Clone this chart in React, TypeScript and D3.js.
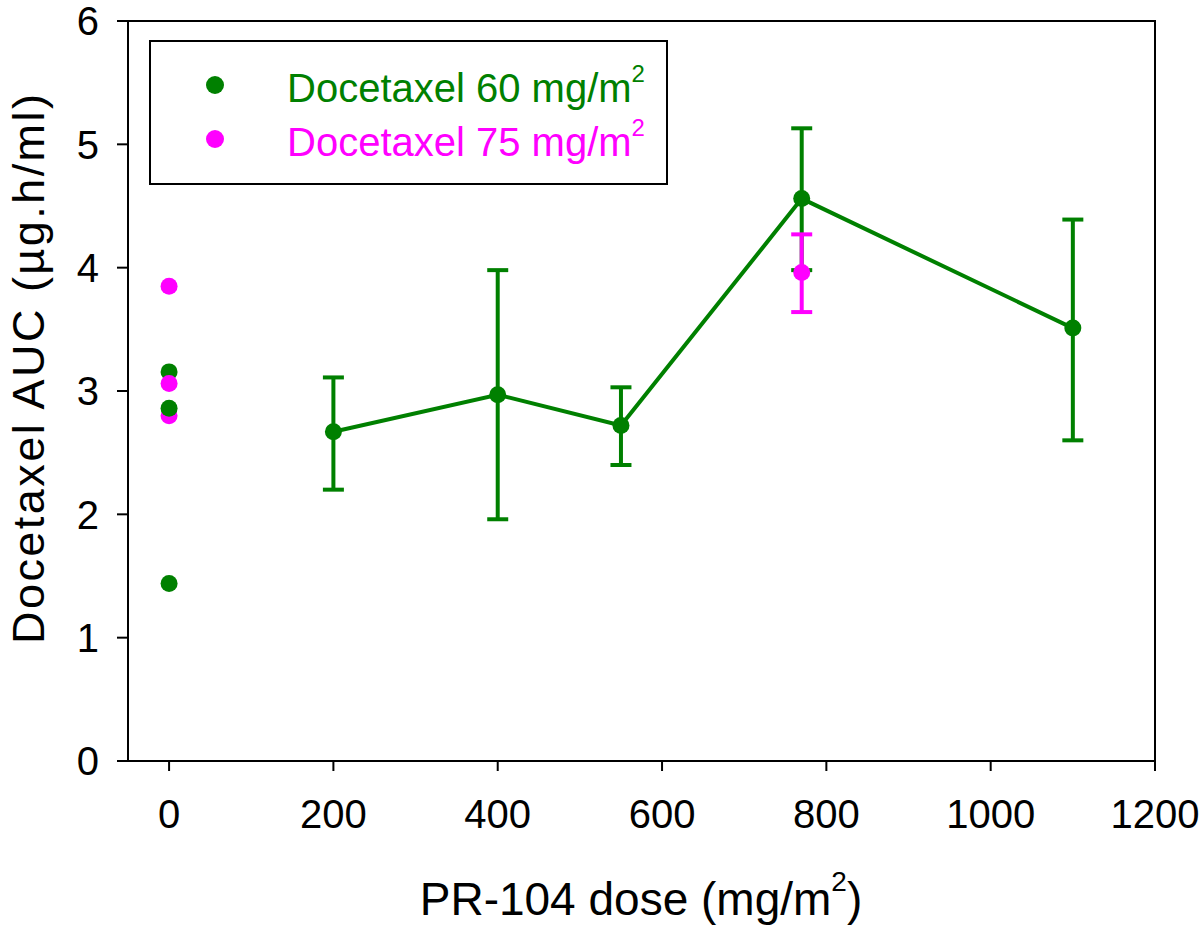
import React from "react";
import * as d3 from "d3";

// ---- data ----
const doseLevels60 = [200, 400, 550, 770, 1100];
const auc60 = [2.67, 2.97, 2.72, 4.56, 3.51];
const auc60Low = [2.2, 1.96, 2.4, 3.98, 2.6];
const auc60High = [3.11, 3.98, 3.03, 5.13, 4.39];

const doseLevels75 = [770];
const auc75 = [3.96];
const auc75Low = [3.64];
const auc75High = [4.27];

// baseline (dose 0) individual values, in drawing order
const baselineSeries = ["75", "60", "60", "75", "75", "60"];
const baselineAUC = [2.8, 2.86, 3.155, 3.06, 3.85, 1.44];

const xTicks = [0, 200, 400, 600, 800, 1000, 1200];
const yTicks = [0, 1, 2, 3, 4, 5, 6];

const legendLabels = ["Docetaxel 60 mg/m", "Docetaxel 75 mg/m"];

const GREEN = "#008000";
const MAGENTA = "#ff00ff";
const FONT = "'Liberation Sans', Arial, Helvetica, sans-serif";

export default function App() {
  const W = 1200;
  const H = 926;
  const x = d3.scaleLinear().domain([-50, 1200]).range([128, 1155]);
  const y = d3.scaleLinear().domain([0, 6]).range([761, 21]);

  const line = d3
    .line<number>()
    .x((_, i) => x(doseLevels60[i]))
    .y((d) => y(d));

  const colorOf = (s: string) => (s === "60" ? GREEN : MAGENTA);
  const r = 8.5;
  const cap = 10.5;

  const errorBar = (dx: number, lo: number, hi: number, color: string, key: string) => (
    <g key={key} stroke={color} strokeWidth={4} fill="none">
      <line x1={x(dx)} x2={x(dx)} y1={y(lo)} y2={y(hi)} />
      <line x1={x(dx) - cap} x2={x(dx) + cap} y1={y(lo)} y2={y(lo)} />
      <line x1={x(dx) - cap} x2={x(dx) + cap} y1={y(hi)} y2={y(hi)} />
    </g>
  );

  return (
    <svg
      width={W}
      height={H}
      style={{ position: "absolute", left: 0, top: 0, background: "#fff" }}
      fontFamily={FONT}
    >
      {/* frame */}
      <rect
        x={x(-50)}
        y={y(6)}
        width={x(1200) - x(-50)}
        height={y(0) - y(6)}
        fill="none"
        stroke="#000"
        strokeWidth={2}
      />
      {/* y ticks */}
      {yTicks.map((t) => (
        <g key={"yt" + t}>
          <line x1={x(-50) - 11} x2={x(-50)} y1={y(t)} y2={y(t)} stroke="#000" strokeWidth={2} />
          <text x={99} y={y(t)} dy="0.36em" textAnchor="end" fontSize={40} fill="#000">
            {t}
          </text>
        </g>
      ))}
      {/* x ticks */}
      {xTicks.map((t) => (
        <g key={"xt" + t}>
          <line x1={x(t)} x2={x(t)} y1={y(0)} y2={y(0) + 10} stroke="#000" strokeWidth={2} />
          <text x={x(t)} y={828} textAnchor="middle" fontSize={40} fill="#000">
            {t}
          </text>
        </g>
      ))}
      {/* axis titles */}
      <text x={641} y={915} textAnchor="middle" fontSize={46} fill="#000">
        PR-104 dose (mg/m
        <tspan fontSize={28} dy={-24}>2</tspan>
        <tspan dy={24}>)</tspan>
      </text>
      <text
        transform="translate(44,369) rotate(-90)"
        textAnchor="middle"
        fontSize={45}
        fill="#000"
        textLength={550}
        lengthAdjust="spacing"
      >
        Docetaxel AUC (µg.h/ml)
      </text>

      {/* green series */}
      <path d={line(auc60) || ""} fill="none" stroke={GREEN} strokeWidth={4} />
      {doseLevels60.map((d, i) => errorBar(d, auc60Low[i], auc60High[i], GREEN, "ge" + i))}
      {doseLevels60.map((d, i) => (
        <circle key={"gp" + i} cx={x(d)} cy={y(auc60[i])} r={r} fill={GREEN} />
      ))}

      {/* magenta series */}
      {doseLevels75.map((d, i) => errorBar(d, auc75Low[i], auc75High[i], MAGENTA, "me" + i))}
      {doseLevels75.map((d, i) => (
        <circle key={"mp" + i} cx={x(d)} cy={y(auc75[i])} r={r} fill={MAGENTA} />
      ))}

      {/* baseline points */}
      {baselineAUC.map((v, i) => (
        <circle key={"bp" + i} cx={x(0)} cy={y(v)} r={r} fill={colorOf(baselineSeries[i])} />
      ))}

      {/* legend */}
      <rect x={150} y={41} width={517} height={143} fill="#fff" stroke="#000" strokeWidth={2} />
      {legendLabels.map((lab, i) => {
        const c = i === 0 ? GREEN : MAGENTA;
        const cy = 85 + i * 54;
        return (
          <g key={"lg" + i}>
            <circle cx={215} cy={cy} r={9} fill={c} />
            <text x={287} y={cy + 17} fontSize={40} fill={c}>
              {lab}
              <tspan fontSize={24} dy={-20}>2</tspan>
            </text>
          </g>
        );
      })}
    </svg>
  );
}
